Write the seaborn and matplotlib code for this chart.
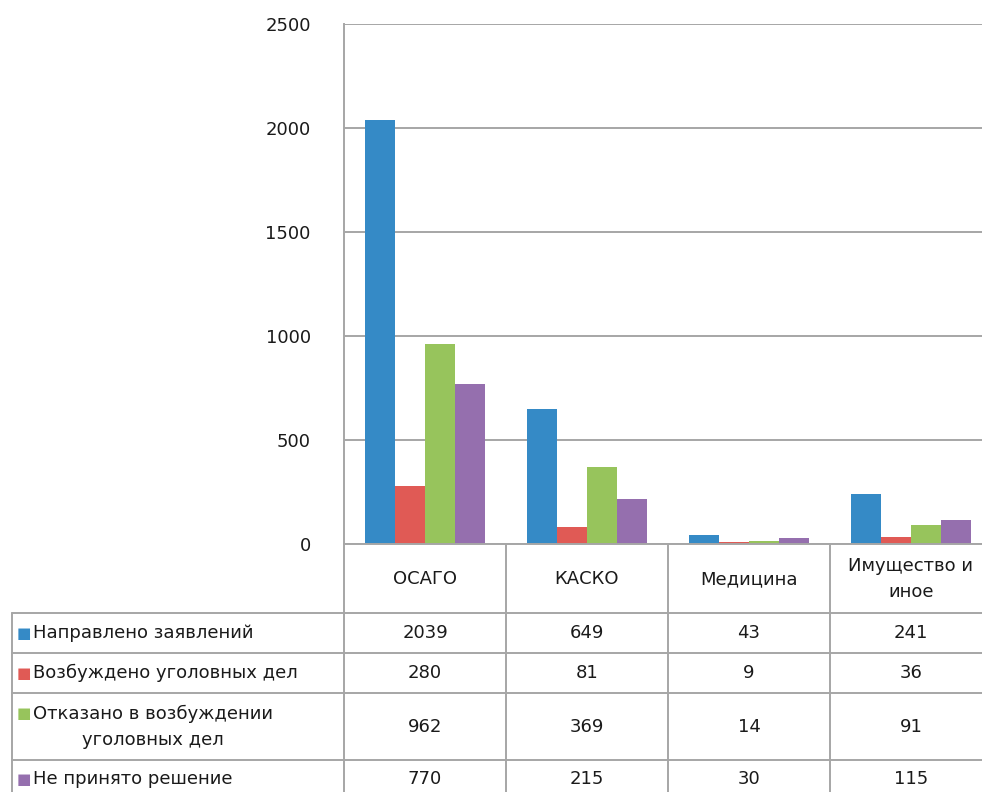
import matplotlib
matplotlib.use("Agg")
import matplotlib.pyplot as plt
import matplotlib.transforms as mtransforms
import seaborn as sns
import pandas as pd

# Data
categories = ["ОСАГО", "КАСКО", "Медицина", "Имущество и\nиное"]
series_names = [
    "Направлено заявлений",
    "Возбуждено уголовных дел",
    "Отказано в возбуждении\nуголовных дел",
    "Не принято решение",
]
sent = [2039, 649, 43, 241]
opened = [280, 81, 9, 36]
refused = [962, 369, 14, 91]
pending = [770, 215, 30, 115]
series_values = [sent, opened, refused, pending]
y_ticks = [0, 500, 1000, 1500, 2000, 2500]

colors = ["#358ac6", "#e05a55", "#97c45c", "#956fae"]

rows = []
for name, vals in zip(series_names, series_values):
    for cat, v in zip(categories, vals):
        rows.append({"category": cat, "series": name, "value": v})
df = pd.DataFrame(rows)

sns.set_theme(style="white")
plt.rcParams["font.family"] = ["DejaVu Sans"]

W, H = 982, 792
fig = plt.figure(figsize=(W / 100, H / 100), dpi=100)
fig.patch.set_facecolor("white")

# axes in pixel geometry: left 344, right 992 (runs past the edge), top 24, bottom 544
ax_l, ax_r, ax_t, ax_b = 344, 992, 24, 544
ax = fig.add_axes([ax_l / W, (H - ax_b) / H, (ax_r - ax_l) / W, (ax_b - ax_t) / H])

sns.barplot(data=df, x="category", y="value", hue="series", order=categories,
            hue_order=series_names, palette=colors, width=0.74, gap=0,
            saturation=1, linewidth=0, legend=False, ax=ax)

grid_c = "#a6a6a6"
ax.set_xlim(-0.5, 3.5)
ax.set_ylim(0, 2500)
ax.set_yticks(y_ticks)
ax.set_yticklabels([str(t) for t in y_ticks], fontsize=13, color="#1a1a1a")
ax.tick_params(axis="y", length=0, pad=24)
ax.set_xticks([])
ax.set_xlabel("")
ax.set_ylabel("")
ax.grid(axis="y", color=grid_c, linewidth=1.4)
ax.set_axisbelow(True)
for s in ["top", "right"]:
    ax.spines[s].set_visible(False)
for s in ["left", "bottom"]:
    ax.spines[s].set_color(grid_c)
    ax.spines[s].set_linewidth(1.4)

# Data table under the plot: x in category units, y in axes fraction
tr = mtransforms.blended_transform_factory(ax.transData, ax.transAxes)
axh = ax_b - ax_t


def yf(py):
    return (ax_b - py) / axh


left_x = -0.5 - (ax_l - 12) / ((ax_r - ax_l) / 4)
row_lines = [613, 653, 693, 760]
table_bottom = 805

line_kw = dict(color=grid_c, linewidth=1.4, transform=tr, clip_on=False)
for py in row_lines:
    ax.plot([left_x, 3.5], [yf(py), yf(py)], **line_kw)
for xb in [-0.5, 0.5, 1.5, 2.5, 3.5]:
    ax.plot([xb, xb], [0, yf(table_bottom)], **line_kw)
ax.plot([left_x, left_x], [yf(613), yf(table_bottom)], **line_kw)

txt_kw = dict(transform=tr, clip_on=False, fontsize=13, color="#1a1a1a")

# category headers
for i, cat in enumerate(categories):
    ax.text(i, yf(579), cat, ha="center", va="center", linespacing=1.6, **txt_kw)

# series rows; the colour key sits beside the first line of each label
row_centers = [633, 673, 727, 779]
key_rows = [633, 673, 713, 779]
for r, (name, vals, col) in enumerate(zip(series_names, series_values, colors)):
    yc = yf(row_centers[r])
    ax.text(left_x + 0.03, yf(key_rows[r]), "■", ha="left", va="center",
            transform=tr, clip_on=False, fontsize=11, color=col)
    ax.text(left_x + 0.13, yc, name, ha="left", va="center",
            multialignment="center", linespacing=1.55, **txt_kw)
    for i, v in enumerate(vals):
        ax.text(i, yc, str(v), ha="center", va="center", **txt_kw)

fig.savefig("out.png", dpi=100)
